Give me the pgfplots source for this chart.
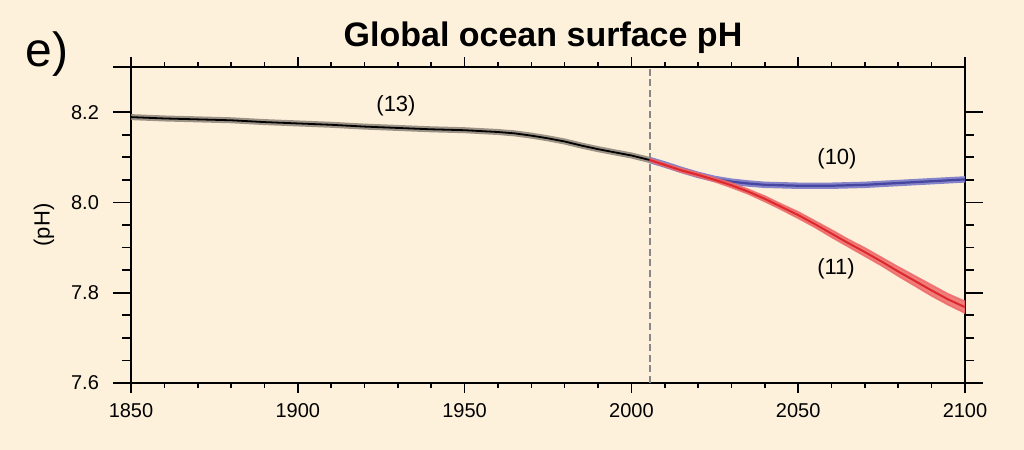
\documentclass[border=0pt]{standalone}
\usepackage{fontspec}
\setmainfont{Liberation Sans}
\usepackage{pgfplots}
\pgfplotsset{compat=1.18}
\usepackage{pgfplotstable}

\definecolor{bg}{RGB}{253,241,220}
\definecolor{histband}{RGB}{140,130,120}
\definecolor{rcpblue}{RGB}{70,70,160}
\definecolor{blueband}{RGB}{120,120,200}
\definecolor{rcpred}{RGB}{220,40,45}
\definecolor{redband}{RGB}{238,105,105}
\definecolor{dashgray}{RGB}{135,135,135}

\pgfplotstableread{
year ph
1850 8.189
1860 8.186
1870 8.184
1880 8.182
1890 8.178
1900 8.175
1910 8.172
1920 8.168
1930 8.165
1940 8.162
1950 8.160
1960 8.156
1965 8.153
1970 8.148
1975 8.142
1980 8.135
1985 8.126
1990 8.118
1995 8.111
2000 8.104
2005.5 8.094
}\histdata

\pgfplotstableread{
year ph
2005.5 8.094
2010 8.084
2015 8.072
2020 8.061
2025 8.052
2030 8.046
2035 8.042
2040 8.039
2045 8.038
2050 8.037
2055 8.037
2060 8.037
2065 8.038
2070 8.039
2075 8.041
2080 8.043
2085 8.045
2090 8.047
2095 8.049
2100 8.051
}\bluedata

\pgfplotstableread{
year mid
2005.5 8.094
2010 8.083
2015 8.071
2020 8.061
2025 8.050
2030 8.038
2035 8.024
2040 8.008
2045 7.990
2050 7.972
2055 7.952
2060 7.931
2065 7.910
2070 7.890
2075 7.869
2080 7.847
2085 7.826
2090 7.805
2095 7.785
2100 7.768
}\reddata

% red uncertainty band: upper edge forward, lower edge back
\pgfplotstableread{
year ph
2005.5 8.097
2010 8.086
2015 8.075
2020 8.065
2025 8.054
2030 8.043
2035 8.029
2040 8.014
2045 7.996
2050 7.979
2055 7.959
2060 7.939
2065 7.918
2070 7.899
2075 7.878
2080 7.857
2085 7.837
2090 7.817
2095 7.797
2100 7.781
2100 7.755
2095 7.773
2090 7.793
2085 7.815
2080 7.837
2075 7.860
2070 7.881
2065 7.902
2060 7.923
2055 7.945
2050 7.965
2045 7.984
2040 8.002
2035 8.019
2030 8.033
2025 8.046
2020 8.057
2015 8.067
2010 8.080
2005.5 8.091
}\redband

\begin{document}
\begin{tikzpicture}
\fill[bg] (-65.5pt,-33.5pt) rectangle (446.5pt,191.5pt);
% axis with y ticks only
\begin{axis}[
  scale only axis, width=417pt, height=158pt,
  xmin=1850, xmax=2100, ymin=7.6, ymax=8.3,
  xtick=\empty,
  ytick={7.6,7.8,8.0,8.2},
  minor y tick num=3,
  extra y ticks={8.3}, extra y tick labels={},
  extra y tick style={ytick pos=left},
  tick align=outside,
  major tick length=9pt, minor tick length=4.5pt,
  axis line style={line width=1pt},
  every tick/.style={black, line width=0.8pt},
  yticklabel style={xshift=-3.5pt, font=\fontsize{10}{12}\selectfont, /pgf/number format/.cd, fixed, fixed zerofill, precision=1},
  /pgf/number format/assume math mode=true,
]
\addplot[draw=none, forget plot] coordinates {(1850,7.6) (2100,8.3)};
\end{axis}
% main axis with x ticks and data
\begin{axis}[
  scale only axis, width=417pt, height=158pt,
  xmin=1850, xmax=2100, ymin=7.6, ymax=8.3,
  ytick=\empty,
  xtick={1850,1900,...,2100},
  minor x tick num=4,
  tick align=outside,
  major tick length=5pt, minor tick length=2.5pt,
  axis line style={line width=1pt},
  every tick/.style={black, line width=0.8pt},
  xticklabel style={yshift=-1.5pt, font=\fontsize{10}{12}\selectfont, /pgf/number format/.cd, 1000 sep={}},
  /pgf/number format/assume math mode=true,
]
\addplot[dashgray, line width=0.8pt, dash pattern=on 3.5pt off 1.8pt] coordinates {(2005.5,7.6) (2005.5,8.3)};
% historical
\addplot[histband, line width=3pt, opacity=0.85] table[x=year, y=ph] {\histdata};
\addplot[black, line width=0.9pt] table[x=year, y=ph] {\histdata};
% RCP2.6
\addplot[blueband, line width=3.2pt, opacity=0.9] table[x=year, y=ph] {\bluedata};
\addplot[rcpblue, line width=1.1pt] table[x=year, y=ph] {\bluedata};
% RCP8.5
\addplot[fill=redband, draw=redband, line width=0.8pt, opacity=0.85] table[x=year, y=ph] {\redband};
\addplot[rcpred, line width=1pt] table[x=year, y=mid] {\reddata};
\end{axis}
\node[anchor=base, font=\fontsize{17}{20}\selectfont\bfseries] at (206pt,168pt) {Global ocean surface pH};
\node[anchor=base west, inner sep=0pt, font=\fontsize{24}{28}\selectfont] at (-53pt,158pt) {e)};
\node[rotate=90, font=\fontsize{11}{13}\selectfont] at (-43.5pt,79pt) {(pH)};
\node[font=\fontsize{11}{13}\selectfont] at (132.5pt,138.5pt) {(13)};
\node[font=\fontsize{11}{13}\selectfont] at (353pt,112pt) {(10)};
\node[font=\fontsize{11}{13}\selectfont] at (352.5pt,57pt) {(11)};
\end{tikzpicture}
\end{document}
